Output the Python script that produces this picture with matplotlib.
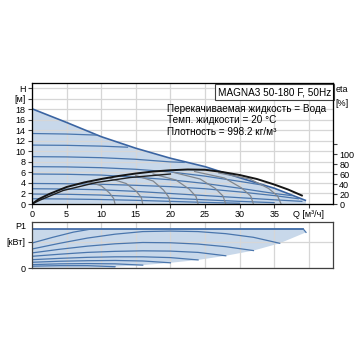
import numpy as np
import matplotlib.pyplot as plt

plt.rcParams['font.family'] = ['Liberation Sans', 'DejaVu Sans']

# ---------------- data ----------------
# max QH curve
q_max = [0, 5, 10, 15, 20, 25, 30, 35, 39.5]
h_max = [18.1, 15.5, 12.8, 10.6, 8.7, 7.1, 5.0, 3.0, 0.7]

# blue QH lines inside the area (Q, H)
qh_lines = [
    ([0, 5, 9.3], [13.4, 13.3, 13.1]),
    ([0, 5, 10, 13.8], [11.2, 11.15, 11.0, 10.8]),
    ([0, 5, 10, 15, 20, 22], [9.0, 8.95, 8.8, 8.5, 8.0, 7.9]),
    ([0, 5, 10, 15, 20, 25, 30, 33.3], [7.1, 7.05, 6.9, 6.6, 6.1, 5.3, 4.3, 3.6]),
    ([0, 5, 10, 15, 20, 25, 30, 35, 37.5], [5.7, 5.65, 5.5, 5.1, 4.6, 3.9, 3.0, 2.0, 1.6]),
    ([0, 5, 10, 15, 20, 25, 30, 35, 38.5], [3.9, 3.85, 3.75, 3.55, 3.3, 2.9, 2.3, 1.6, 1.0]),
    ([0, 5, 10, 15, 20, 25, 30, 35, 39], [2.9, 2.85, 2.7, 2.4, 2.0, 1.6, 1.2, 0.8, 0.5]),
    ([0, 5, 10, 15, 20, 25, 30, 35], [1.9, 1.85, 1.7, 1.4, 1.1, 0.8, 0.5, 0.25]),
    ([0, 5, 10, 15, 20, 25, 30], [1.0, 0.95, 0.85, 0.7, 0.5, 0.3, 0.15]),
]

# eta curve (right axis, %)
q_eta = [0, 1, 2.5, 5, 7.5, 10, 12.5, 15, 17.5, 20, 22.5, 25, 27.5, 30, 32.5, 35, 37, 39]
eta_top = [0, 10, 20, 34, 43, 50, 56, 61, 65, 67.5, 69, 68.5, 64, 58, 50, 39, 29, 17]
q_eta_low = [0, 1.2, 4.5, 9.3, 14.2, 20]
eta_low = [0, 8, 27, 43, 53, 60]

# grey eta arcs ending at H=0
eta_arcs = [
    ([8.1, 10.05, 11.2, 11.8, 12], [45, 36, 22, 11, 0]),
    ([11.3, 13.6, 15.1, 15.8, 16], [51, 41, 25, 13, 0]),
    ([15, 17.5, 19, 19.75, 20], [57, 46, 28, 14, 0]),
    ([17.5, 20.8, 22.7, 23.7, 24], [60, 48, 30, 15, 0]),
    ([20.5, 24.3, 26.5, 27.6, 28], [63, 50, 31, 16, 0]),
    ([23.5, 27.8, 30.3, 31.6, 32], [65, 52, 32, 16, 0]),
    ([27, 31.5, 34.2, 35.5, 36], [62, 50, 31, 16, 0]),
]

# P1 curves (Q, kW)
p1_limit_q = [0, 39.2]
p1_limit = [1.5, 1.5]
p1_curves = [
    ([0, 3, 6, 8.6, 39.2, 39.6], [0.96, 1.18, 1.38, 1.5, 1.5, 1.37]),
    ([0, 4, 8, 12, 16, 20, 24, 28, 32, 35.8], [0.73, 0.95, 1.15, 1.3, 1.4, 1.42, 1.4, 1.32, 1.18, 0.95]),
    ([0, 4, 8, 12, 16, 20, 24, 28, 32], [0.58, 0.72, 0.84, 0.93, 0.98, 0.97, 0.92, 0.82, 0.67]),
    ([0, 4, 8, 12, 16, 20, 24, 28], [0.45, 0.53, 0.6, 0.64, 0.66, 0.65, 0.6, 0.47]),
    ([0, 4, 8, 12, 16, 20, 24], [0.32, 0.37, 0.41, 0.43, 0.43, 0.4, 0.31]),
    ([0, 4, 8, 12, 16, 20], [0.22, 0.26, 0.28, 0.29, 0.27, 0.2]),
    ([0, 4, 8, 12, 16], [0.13, 0.16, 0.17, 0.16, 0.11]),
    ([0, 4, 8, 12], [0.07, 0.09, 0.09, 0.05]),
]

x_ticks = [0, 5, 10, 15, 20, 25, 30, 35, 40]
x_labels = ['0', '5', '10', '15', '20', '25', '30', '35', 'Q [м³/ч]']
h_ticks = [0, 2, 4, 6, 8, 10, 12, 14, 16, 18, 20, 22]
h_labels = ['0', '2', '4', '6', '8', '10', '12', '14', '16', '18', '[м]', 'H']
eta_ticks = [0, 20, 40, 60, 80, 100, 120]
eta_labels = ['0', '20', '40', '60', '80', '100', '']
info_lines = ['Перекачиваемая жидкость = Вода', 'Темп. жидкости = 20 °C', 'Плотность = 998.2 кг/м³']
title_box = 'MAGNA3 50-180 F, 50Hz'

# ---------------- styles ----------------
fill_c = '#c8d8ea'
blue_c = '#3a64a2'
line_c = '#4a76ad'
grid_c = '#d6d6d6'
fs = 6.5
fs_txt = 7.2

fig = plt.figure(figsize=(3.6, 3.6), dpi=100)
ax = fig.add_axes([32/360, 1-204/360, 301/360, 121/360])
axp = fig.add_axes([32/360, 1-268/360, 301/360, 46.3/360])

# ---- main QH panel ----
ax.fill_between(q_max, h_max, 0, color=fill_c, lw=0)
ax.plot(q_max, h_max, color=blue_c, lw=1.2)
for q, h in qh_lines:
    ax.plot(q, h, color=line_c, lw=0.9)
ax.set_xlim(0, 43.5)
ax.set_ylim(0, 23)
ax.set_xticks(x_ticks)
ax.set_xticklabels(x_labels, fontsize=fs)
ax.set_yticks(h_ticks)
ax.set_yticklabels(h_labels, fontsize=fs)
ax.grid(True, color=grid_c, lw=0.9)
ax.tick_params(length=3, width=0.8, pad=1.5, color='#404040')
for s in ax.spines.values():
    s.set_color('#404040')
    s.set_linewidth(0.9)

ax2 = ax.twinx()
ax2.set_position(ax.get_position())
ax2.set_ylim(0, 242)
for q, e in eta_arcs:
    ax2.plot(q, e, color='#80868e', lw=0.9)
ax2.plot(q_eta_low, eta_low, color='#202020', lw=1.0)
ax2.plot(q_eta, eta_top, color='#151515', lw=1.4)
ax2.set_yticks(eta_ticks)
ax2.set_yticklabels(eta_labels, fontsize=fs)
ax2.tick_params(length=3, width=0.8, pad=1.5, color='#404040')
ax2.text(1.008, 202, '[%]', transform=ax2.get_yaxis_transform(), fontsize=fs, va='center', ha='left')
ax2.text(1.008, 229, 'eta', transform=ax2.get_yaxis_transform(), fontsize=fs, va='center', ha='left')

ax.text(0.993, 0.965, title_box, transform=ax.transAxes, fontsize=fs_txt, ha='right', va='top',
        bbox=dict(boxstyle='square,pad=0.3', fc='white', ec='#404040', lw=0.8))
for i, t in enumerate(info_lines):
    ax.text(0.447, 0.785 - i*0.093, t, transform=ax.transAxes, fontsize=fs_txt, ha='left', va='center')

# ---- P1 panel ----
end_q = [c[0][-1] for c in p1_curves]
end_p = [c[1][-1] for c in p1_curves]
poly_q = [0] + p1_limit_q[1:] + end_q + [end_q[-1], 0]
poly_p = [p1_limit[0]] + p1_limit[1:] + end_p + [0, 0]
axp.fill(poly_q, poly_p, color=fill_c, lw=0)
axp.plot(p1_limit_q, p1_limit, color=blue_c, lw=1.2)
for q, p in p1_curves:
    axp.plot(q, p, color=line_c, lw=0.9)
axp.set_xlim(0, 43.5)
axp.set_ylim(0, 1.78)
axp.set_xticks(x_ticks)
axp.set_xticklabels([])
axp.set_yticks([0, 1])
axp.set_yticklabels(['0', '[кВт]'], fontsize=fs)
axp.grid(True, color=grid_c, lw=0.9)
axp.tick_params(axis='x', length=0)
axp.tick_params(axis='y', length=3, width=0.8, pad=1.5, color='#404040')
axp.text(-0.02, 1.6, 'P1', transform=axp.get_yaxis_transform(), fontsize=fs, ha='right', va='center')
for s in axp.spines.values():
    s.set_color('#404040')
    s.set_linewidth(0.9)

plt.savefig('out.png', dpi=100)
